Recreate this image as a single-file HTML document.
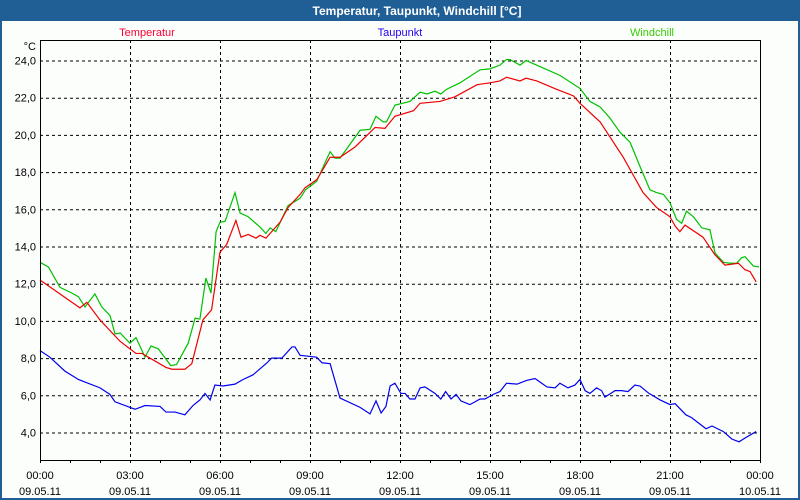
<!DOCTYPE html>
<html><head><meta charset="utf-8"><style>
html,body{margin:0;padding:0;width:800px;height:500px;overflow:hidden;background:#fcfefc}
svg{display:block}
text{font-family:"Liberation Sans","DejaVu Sans",sans-serif}
</style></head><body>
<svg id="chart" width="800" height="500">
<rect x="0" y="0" width="800" height="500" fill="#fcfefc"/>
<rect x="0" y="0" width="800" height="21" fill="#1f5f96"/>
<text x="417" y="15" text-anchor="middle" fill="#fff" font-size="12" font-weight="bold">Temperatur, Taupunkt, Windchill [°C]</text>
<rect x="1" y="1" width="798" height="498" fill="none" stroke="#1f5f96" stroke-width="2"/>
<text x="147" y="36" text-anchor="middle" fill="#ff0033" font-size="11">Temperatur</text>
<text x="400" y="36" text-anchor="middle" fill="#2200ee" font-size="11">Taupunkt</text>
<text x="652" y="36" text-anchor="middle" fill="#33cc00" font-size="11">Windchill</text>
<text x="36" y="50" text-anchor="end" fill="#000" font-size="11">°C</text>
<g id="grid"></g><g id="series"></g><g id="axes"></g>
</svg>
<script>
const yTicks=[4,6,8,10,12,14,16,18,20,22,24];
const xTickHours=[0,3,6,9,12,15,18,21,24];
const xTimeLabels=["00:00","03:00","06:00","09:00","12:00","15:00","18:00","21:00","00:00"];
const xDateLabels=["09.05.11","09.05.11","09.05.11","09.05.11","09.05.11","09.05.11","09.05.11","09.05.11","10.05.11"];
const tempT=[0,1.33,1.56,2,2.67,3.2,3.4,4.2,4.4,4.83,5.06,5.43,5.72,6,6.22,6.53,6.7,6.94,7.2,7.33,7.53,7.78,8,8.27,8.67,8.83,9.23,9.67,10,10.5,11.17,11.5,11.83,12.45,12.67,13.33,13.83,14.57,15,15.33,15.55,16,16.2,16.56,17.22,17.78,18,18.67,19.44,20.1,20.55,21,21.17,21.33,21.5,22.1,22.5,22.83,23.28,23.5,23.67,23.87];
const tempV=[12.2,10.7,11.0,10.05,8.9,8.25,8.25,7.5,7.4,7.4,7.7,10.05,10.6,13.7,14.1,15.4,14.5,14.65,14.45,14.6,14.45,14.9,15.3,16.1,16.8,17.15,17.6,18.8,18.8,19.35,20.4,20.35,21.0,21.3,21.7,21.8,22.05,22.7,22.8,22.9,23.1,22.9,23.05,22.9,22.45,22.1,21.7,20.7,18.8,16.9,16.1,15.6,15.1,14.8,15.15,14.5,13.55,13.0,13.1,12.75,12.65,12.1];
const windT=[0,0.28,0.67,1.06,1.28,1.5,1.83,2.06,2.33,2.5,2.67,3,3.2,3.5,3.7,3.94,4.36,4.55,4.94,5.17,5.33,5.53,5.7,5.87,6,6.17,6.5,6.67,6.94,7.33,7.53,7.67,7.86,8.27,8.67,8.85,9.22,9.67,9.83,10,10.67,11,11.2,11.44,11.55,11.83,12.33,12.67,12.9,13.17,13.36,13.55,14,14.67,15,15.33,15.55,15.67,16,16.2,16.56,17.33,18,18.33,18.67,19,19.33,19.67,20,20.33,20.55,20.78,21,21.22,21.39,21.55,21.78,22.06,22.33,22.5,22.78,23,23.22,23.39,23.5,23.78,23.97];
const windV=[13.15,12.9,11.8,11.5,11.3,10.75,11.45,10.75,10.3,9.3,9.35,8.8,9.1,8.05,8.65,8.5,7.6,7.65,8.8,10.15,10.1,12.3,11.5,14.8,15.3,15.35,16.9,15.8,15.6,15.05,14.7,15.0,14.8,16.2,16.6,17.05,17.5,19.1,18.75,18.75,20.25,20.3,21.0,20.7,20.7,21.6,21.8,22.3,22.2,22.35,22.2,22.45,22.8,23.5,23.55,23.75,24.05,24.05,23.75,24.0,23.75,23.2,22.5,21.8,21.5,20.9,20.15,19.6,18.3,17.05,16.9,16.8,16.35,15.45,15.25,15.9,15.6,15.0,14.9,13.65,13.15,13.1,13.1,13.4,13.45,12.95,12.9];
const dewT=[0,0.33,0.83,1.28,2,2.33,2.5,3,3.17,3.5,4,4.2,4.5,4.83,5.1,5.33,5.5,5.67,5.83,6.1,6.5,6.77,7.1,7.57,7.72,8.06,8.4,8.5,8.67,9.22,9.4,9.67,10,10.67,11,11.2,11.37,11.53,11.67,11.83,12.03,12.17,12.33,12.5,12.67,12.83,13.17,13.36,13.52,13.7,13.87,14.03,14.33,14.67,14.83,15.11,15.33,15.55,15.9,16.22,16.5,16.9,17.17,17.33,17.6,17.83,18,18.17,18.33,18.55,18.72,18.83,19.17,19.39,19.6,19.83,20,20.3,20.67,21,21.17,21.53,21.72,22.2,22.4,22.78,23.06,23.3,23.55,23.87];
const dewV=[8.4,8.05,7.3,6.85,6.4,6.05,5.65,5.35,5.25,5.45,5.4,5.1,5.1,4.95,5.45,5.75,6.1,5.75,6.55,6.5,6.6,6.85,7.1,7.75,8.0,8.0,8.6,8.6,8.15,8.05,7.75,7.7,5.85,5.35,5.0,5.7,5.05,5.4,6.5,6.65,6.1,6.1,5.8,5.8,6.4,6.45,6.1,5.8,6.2,5.8,6.05,5.7,5.5,5.8,5.8,6.05,6.2,6.65,6.6,6.8,6.9,6.45,6.4,6.65,6.4,6.55,6.85,6.25,6.1,6.4,6.25,5.9,6.25,6.25,6.2,6.55,6.5,6.1,5.75,5.5,5.55,4.95,4.8,4.2,4.35,4.05,3.65,3.5,3.75,4.05];

const NS="http://www.w3.org/2000/svg";
const X0=40,X1=760,YT=40,YB=460;
const xs=h=>X0+h*(X1-X0)/24;
const ys=v=>432.5-(v-4)*18.6;
function mk(tag,attrs,parent){const e=document.createElementNS(NS,tag);for(const k in attrs)e.setAttribute(k,attrs[k]);parent.appendChild(e);return e;}
const grid=document.getElementById('grid'),axes=document.getElementById('axes'),series=document.getElementById('series');
yTicks.forEach(v=>{
  const l=mk('line',{x1:X0,x2:X1,y1:ys(v)+0.5,y2:ys(v)+0.5,stroke:'#000','stroke-dasharray':'3,3','stroke-width':1},grid);
  
  
  const t=mk('text',{x:36,y:ys(v)+4,'text-anchor':'end','font-size':11,fill:'#000'},axes);
  t.textContent=v.toFixed(1).replace('.',',');
  
  
});
xTickHours.forEach((h,i)=>{
  if(h>0&&h<24){const l=mk('line',{x1:xs(h)+0.5,x2:xs(h)+0.5,y1:YT,y2:YB,stroke:'#000','stroke-dasharray':'3,3','stroke-width':1},grid);
  
  }
  const t=mk('text',{x:xs(h),y:479,'text-anchor':'middle','font-size':11,fill:'#000'},axes);
  t.textContent=xTimeLabels[i];
  
  
  const d=mk('text',{x:xs(h),y:495,'text-anchor':'middle','font-size':11,fill:'#000'},axes);
  d.textContent=xDateLabels[i];
  
  
});
for(let h=0;h<=24;h++){
  const l=mk('line',{x1:xs(h)+0.5,x2:xs(h)+0.5,y1:YB,y2:YB+3,stroke:'#000'},axes);
  
  
}
const frame=mk('rect',{x:X0+0.5,y:YT+0.5,width:X1-X0,height:YB-YT,fill:'none',stroke:'#000','stroke-width':1},axes);


function line(T,V,color,name){
  const p=mk('polyline',{points:T.map((t,i)=>xs(t)+','+ys(V[i])).join(' '),fill:'none',stroke:color,'stroke-width':1.2},series);
  
  
}
line(dewT,dewV,'#0000ee','taupunkt-line');
line(windT,windV,'#00c000','windchill-line');
line(tempT,tempV,'#ee0000','temperatur-line');
</script>
</body></html>
